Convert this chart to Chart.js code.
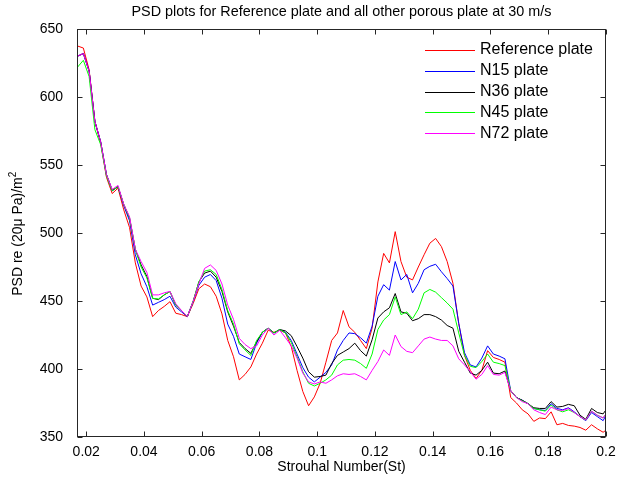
<!DOCTYPE html>
<html>
<head>
<meta charset="utf-8">
<script src="https://cdn.jsdelivr.net/npm/chart.js@4"></script>
<style>
  html, body { margin: 0; padding: 0; background: #fff; }
  #psd { display: block; }
</style>
</head>
<body>
<canvas id="psd" width="630" height="484"></canvas>
<script>
// Strouhal numbers shared by all series
const st = [
  0.017,0.019,0.021,0.023,0.025,0.027,0.029,0.031,0.033,0.035,
  0.037,0.039,0.041,0.043,0.045,0.047,0.049,0.051,0.053,0.055,
  0.057,0.059,0.061,0.063,0.065,0.067,0.069,0.071,0.073,0.075,
  0.077,0.079,0.081,0.083,0.085,0.087,0.089,0.091,0.093,0.095,
  0.097,0.099,0.101,0.103,0.105,0.107,0.109,0.111,0.113,0.115,
  0.117,0.119,0.121,0.123,0.125,0.127,0.129,0.131,0.133,0.135,
  0.137,0.139,0.141,0.143,0.145,0.147,0.149,0.151,0.153,0.155,
  0.157,0.159,0.161,0.163,0.165,0.167,0.169,0.171,0.173,0.175,
  0.177,0.179,0.181,0.183,0.185,0.187,0.189,0.191,0.193,0.195,
  0.197,0.199,0.2
];

const refPlate = [
  637.5,636,620,582,566,541,529,533,517,504,
  478,461,453,438.5,443,446,449.5,441,440,438.5,
  448,459,462.5,460.5,453.5,440.5,421,409,392,396,
  401.5,411,419,428.5,427,428.5,426.5,416.5,399,383.5,
  373,379.5,389.5,405,421,426.5,443,431,427,421,
  415,430,464,485,478,501,479,467.5,465.5,475,
  484,492.5,496,490,479,463,433.5,410,399,393,
  399,413.5,408.5,407,405,379,375,370,367,361.5,
  364,363.5,368.5,359,360,358.5,358,357,355,359,
  356,353.5,355
];

const n15 = [
  630,632,619,582,567,543,531,534,520,509,
  484,470,460.5,447,449,451,453.5,445.5,442,438.5,
  449.5,461.5,467.5,469.5,465,452,433,424,411,409,
  407,419,427,430,426.5,429,427,421,411,401,
  394,390.5,394,397.5,403,414,421,426.5,426,423,
  419,431.5,453.5,462,458,479,465.5,469.5,456,463,
  473,475.5,477,471.5,466.5,461,433.5,412,403,401.5,
  408,417,411,409.5,407.5,384,379,377,374.5,371,
  370,369.5,374.5,371,370,371.5,368.5,365,362,368,
  365,362,366
];

const n36 = [
  630,632,619,582,567,543,531.5,534,521,511,
  488,476.5,468,452,451,454.5,457,447,443,438.5,
  449.5,464,470.5,472,467.5,457,442,431.5,419.5,415,
  411.5,420,427,430,426.5,429,428,424.5,416.5,408,
  398,394,394.5,395.5,404,410,412.5,415,419,413.5,
  409.5,421.5,437.5,442,445,455.5,442,441,435.5,437,
  440,440,438.5,436,432,430,413,405,397,395.5,
  399,405,397,396.5,398.5,384,379,377,374.5,371.5,
  371,371,376,372,372.5,374,373,366,363,371,
  368,367,370
];

const n45 = [
  622,627,615,576,565,542,531,534,521,511,
  488,475,467,452,451.5,454.5,457,447,443,438.5,
  449.5,464,472,473,469.5,458.5,443,433,418.5,414,
  410,421,427,430,426.5,429,426.5,419.5,409,398,
  389.5,387.5,389.5,392,395.5,403,406.5,407,406.5,404,
  400.5,411,429,436,440,453,440,442,437,444,
  456,458.5,456.5,452.5,448.5,444,426.5,410,402,401,
  405.5,411,405,404,402.5,384,379,376.5,374.5,371,
  370,369,373.5,370,368.5,370,368,365,362.5,369,
  366,364,367
];

const n72 = [
  630,632,619,582,567,543,532,535,521,512,
  488,479,471,454.5,454.5,456,457,448,443,438.5,
  449.5,462.5,474,476.5,472.5,462.5,447,436.5,422.5,418,
  415,417,425,430,425,428.5,423,417,408,397,
  390.5,389,390.5,389.5,392,395,396.5,396,396.5,394.5,
  392,399,405.5,414,410,425,416.5,413,412,417,
  422,423.5,422,421,421,417,407.5,403,398,392.5,
  396,402.5,396,395.5,397.5,384,379,376,374.5,370,
  368,366.5,372,370,369.5,371,368,365,362.5,369,
  366,364,367
];

const seriesNames = ['Reference plate', 'N15 plate', 'N36 plate', 'N45 plate', 'N72 plate'];
const seriesColors = ['#ff0000', '#0000ff', '#000000', '#00ff00', '#ff00ff'];
const xTicks = [0.02, 0.04, 0.06, 0.08, 0.1, 0.12, 0.14, 0.16, 0.18, 0.2];
const yTicks = [350, 400, 450, 500, 550, 600, 650];

const FONT = '"Liberation Sans", Arial, Helvetica, sans-serif';

const toPoints = vals => st.map((x, i) => ({ x: x, y: vals[i] }));

// axes box, inward ticks, titles and legend drawn the MATLAB way
const matlabFrame = {
  id: 'matlabFrame',
  afterDraw(chart) {
    const { ctx, chartArea: a, scales } = chart;
    const L = Math.round(a.left) + 0.5, R = Math.round(a.right) - 0.5;
    const T = Math.round(a.top) + 0.5, B = Math.round(a.bottom) - 0.5;
    ctx.save();
    ctx.strokeStyle = '#262626';
    ctx.lineWidth = 1;
    ctx.strokeRect(L, T, R - L, B - T);

    ctx.beginPath();
    xTicks.forEach(v => {
      const px = Math.round(scales.x.getPixelForValue(v)) + 0.5;
      ctx.moveTo(px, B); ctx.lineTo(px, B - 5);
      ctx.moveTo(px, T); ctx.lineTo(px, T + 5);
    });
    yTicks.forEach(v => {
      const py = Math.round(scales.y.getPixelForValue(v)) + 0.5;
      ctx.moveTo(L, py); ctx.lineTo(L + 5, py);
      ctx.moveTo(R, py); ctx.lineTo(R - 5, py);
    });
    ctx.stroke();

    ctx.fillStyle = '#000';
    ctx.textAlign = 'center';
    ctx.textBaseline = 'middle';
    const cx = (a.left + a.right) / 2;
    ctx.font = '14.4px ' + FONT;
    ctx.fillText('PSD plots for Reference plate and all other porous plate at 30 m/s', cx, 12);
    ctx.font = '14px ' + FONT;
    ctx.fillText('Strouhal Number(St)', cx, 467);

    // y title with superscript
    ctx.save();
    ctx.translate(18, (a.top + a.bottom) / 2);
    ctx.rotate(-Math.PI / 2);
    const main = 'PSD re (20\u03bc Pa)/m';
    const w = ctx.measureText(main).width;
    ctx.textAlign = 'left';
    ctx.fillText(main, -(w + 7) / 2, 0);
    ctx.font = '10px ' + FONT;
    ctx.fillText('2', -(w + 7) / 2 + w, -5);
    ctx.restore();

    // legend
    ctx.font = '16px ' + FONT;
    ctx.textAlign = 'left';
    seriesNames.forEach((name, i) => {
      const yy = 50 + i * 20.8;
      ctx.strokeStyle = seriesColors[i];
      ctx.beginPath();
      ctx.moveTo(a.right - 181, Math.round(yy) + 0.5);
      ctx.lineTo(a.right - 131, Math.round(yy) + 0.5);
      ctx.stroke();
      ctx.fillStyle = '#000';
      ctx.fillText(name, a.right - 126, yy);
    });
    ctx.restore();
  }
};

const allValues = [refPlate, n15, n36, n45, n72];

new Chart(document.getElementById('psd'), {
  type: 'line',
  data: {
    datasets: allValues.map((vals, i) => ({
      label: seriesNames[i],
      data: toPoints(vals),
      borderColor: seriesColors[i],
      backgroundColor: seriesColors[i],
      borderWidth: 1,
      pointRadius: 0,
      tension: 0,
      fill: false,
      order: allValues.length - i
    }))
  },
  options: {
    responsive: false,
    animation: false,
    layout: { padding: { left: 0, top: 29, right: 24, bottom: 0 } },
    plugins: {
      legend: { display: false },
      title: { display: false },
      tooltip: { enabled: false }
    },
    scales: {
      x: {
        type: 'linear',
        min: 0.0168,
        max: 0.2,
        grid: { display: false, drawTicks: false },
        border: { display: false },
        afterBuildTicks: scale => { scale.ticks = xTicks.map(v => ({ value: v })); },
        afterFit: scale => { scale.height = 47; },
        ticks: {
          padding: 7,
          color: '#000',
          font: { family: FONT, size: 14 },
          maxRotation: 0,
          autoSkip: false,
          callback: v => String(Number(v.toFixed(2)))
        }
      },
      y: {
        min: 350,
        max: 650,
        grid: { display: false, drawTicks: false },
        border: { display: false },
        afterBuildTicks: scale => { scale.ticks = yTicks.map(v => ({ value: v })); },
        afterFit: scale => { scale.width = 77; },
        ticks: {
          padding: 14,
          color: '#000',
          font: { family: FONT, size: 14 }
        }
      }
    }
  },
  plugins: [matlabFrame]
});
</script>
</body>
</html>
